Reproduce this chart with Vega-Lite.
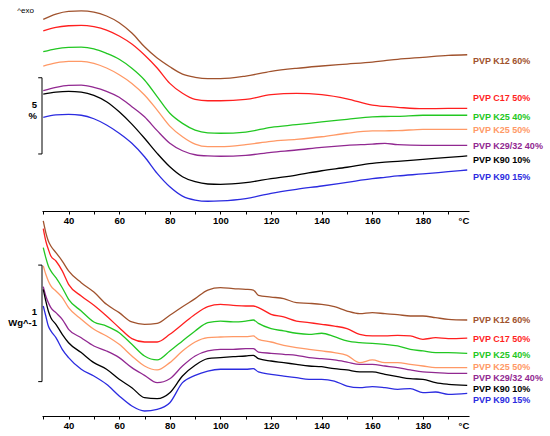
{
  "$schema": "https://vega.github.io/schema/vega-lite/v6.json",
  "padding": {"left": 8, "top": 0, "right": 0, "bottom": 0},
  "spacing": 9,
  "bounds": "flush",
  "datasets": {
    "top": [
      {"t": 30, "k12": 12.57, "c17": 11.82, "k25a": 10.45, "k25b": 9.51, "k29": 7.89, "k90a": 7.67, "k90b": 6.14},
      {"t": 35, "k12": 12.92, "c17": 12.05, "k25a": 10.64, "k25b": 9.72, "k29": 8.11, "k90a": 7.80, "k90b": 6.30},
      {"t": 40, "k12": 13.10, "c17": 12.15, "k25a": 10.73, "k25b": 9.82, "k29": 8.24, "k90a": 7.85, "k90b": 6.34},
      {"t": 45, "k12": 13.13, "c17": 12.18, "k25a": 10.75, "k25b": 9.82, "k29": 8.26, "k90a": 7.80, "k90b": 6.28},
      {"t": 50, "k12": 13.05, "c17": 12.09, "k25a": 10.64, "k25b": 9.69, "k29": 8.11, "k90a": 7.59, "k90b": 6.05},
      {"t": 55, "k12": 12.79, "c17": 11.87, "k25a": 10.34, "k25b": 9.38, "k29": 7.85, "k90a": 7.17, "k90b": 5.64},
      {"t": 60, "k12": 12.35, "c17": 11.48, "k25a": 9.95, "k25b": 8.94, "k29": 7.46, "k90a": 6.51, "k90b": 5.10},
      {"t": 65, "k12": 11.67, "c17": 10.95, "k25a": 9.36, "k25b": 8.37, "k29": 6.84, "k90a": 5.70, "k90b": 4.44},
      {"t": 70, "k12": 10.77, "c17": 10.23, "k25a": 8.59, "k25b": 7.61, "k29": 6.18, "k90a": 4.77, "k90b": 3.56},
      {"t": 75, "k12": 10.03, "c17": 9.38, "k25a": 7.50, "k25b": 6.62, "k29": 5.27, "k90a": 3.78, "k90b": 2.47},
      {"t": 80, "k12": 9.46, "c17": 8.37, "k25a": 6.41, "k25b": 5.57, "k29": 4.44, "k90a": 2.90, "k90b": 1.59},
      {"t": 85, "k12": 8.98, "c17": 7.72, "k25a": 5.75, "k25b": 4.87, "k29": 3.95, "k90a": 2.25, "k90b": 0.98},
      {"t": 90, "k12": 8.77, "c17": 7.32, "k25a": 5.31, "k25b": 4.39, "k29": 3.69, "k90a": 1.92, "k90b": 0.72},
      {"t": 95, "k12": 8.68, "c17": 7.23, "k25a": 5.13, "k25b": 4.22, "k29": 3.61, "k90a": 1.77, "k90b": 0.64},
      {"t": 100, "k12": 8.68, "c17": 7.23, "k25a": 5.10, "k25b": 4.22, "k29": 3.59, "k90a": 1.75, "k90b": 0.66},
      {"t": 110, "k12": 8.85, "c17": 7.32, "k25a": 5.18, "k25b": 4.35, "k29": 3.65, "k90a": 1.86, "k90b": 0.81},
      {"t": 120, "k12": 9.16, "c17": 7.63, "k25a": 5.49, "k25b": 4.57, "k29": 3.85, "k90a": 2.12, "k90b": 1.16},
      {"t": 130, "k12": 9.36, "c17": 7.72, "k25a": 5.66, "k25b": 4.70, "k29": 4.00, "k90a": 2.36, "k90b": 1.42},
      {"t": 140, "k12": 9.51, "c17": 7.63, "k25a": 5.84, "k25b": 4.87, "k29": 4.18, "k90a": 2.64, "k90b": 1.64},
      {"t": 150, "k12": 9.64, "c17": 7.36, "k25a": 6.01, "k25b": 5.10, "k29": 4.31, "k90a": 2.87, "k90b": 1.88},
      {"t": 160, "k12": 9.77, "c17": 6.95, "k25a": 6.18, "k25b": 5.25, "k29": 4.39, "k90a": 3.13, "k90b": 2.12},
      {"t": 165, "k12": 9.86, "c17": 6.86, "k25a": 6.20, "k25b": 5.26, "k29": 4.44, "k90a": 3.20, "k90b": 2.21},
      {"t": 170, "k12": 9.95, "c17": 6.80, "k25a": 6.21, "k25b": 5.27, "k29": 4.35, "k90a": 3.26, "k90b": 2.30},
      {"t": 180, "k12": 10.08, "c17": 6.71, "k25a": 6.28, "k25b": 5.36, "k29": 4.31, "k90a": 3.39, "k90b": 2.43},
      {"t": 190, "k12": 10.21, "c17": 6.73, "k25a": 6.28, "k25b": 5.36, "k29": 4.31, "k90a": 3.52, "k90b": 2.58},
      {"t": 197.5, "k12": 10.25, "c17": 6.73, "k25a": 6.28, "k25b": 5.36, "k29": 4.31, "k90a": 3.61, "k90b": 2.69}
    ],
    "bottom": [
      {"t": 30, "k12": 1.674, "c17": 1.608, "k25a": 1.445, "k25b": 1.288, "k29": 1.110, "k90a": 1.087, "k90b": 0.944},
      {"t": 31, "k12": 1.574, "c17": 1.502, "k25a": 1.359, "k25b": 1.216, "k29": 1.030, "k90a": 0.987, "k90b": 0.858},
      {"t": 32, "k12": 1.502, "c17": 1.431, "k25a": 1.288, "k25b": 1.159, "k29": 0.973, "k90a": 0.901, "k90b": 0.772},
      {"t": 33, "k12": 1.459, "c17": 1.373, "k25a": 1.245, "k25b": 1.116, "k29": 0.930, "k90a": 0.844, "k90b": 0.730},
      {"t": 35, "k12": 1.402, "c17": 1.330, "k25a": 1.187, "k25b": 1.073, "k29": 0.887, "k90a": 0.787, "k90b": 0.672},
      {"t": 37.5, "k12": 1.330, "c17": 1.245, "k25a": 1.101, "k25b": 1.016, "k29": 0.830, "k90a": 0.701, "k90b": 0.572},
      {"t": 40, "k12": 1.245, "c17": 1.130, "k25a": 1.001, "k25b": 0.930, "k29": 0.744, "k90a": 0.629, "k90b": 0.501},
      {"t": 45, "k12": 1.144, "c17": 1.030, "k25a": 0.901, "k25b": 0.830, "k29": 0.672, "k90a": 0.544, "k90b": 0.401},
      {"t": 50, "k12": 1.064, "c17": 0.950, "k25a": 0.807, "k25b": 0.744, "k29": 0.601, "k90a": 0.458, "k90b": 0.343},
      {"t": 55, "k12": 0.958, "c17": 0.858, "k25a": 0.772, "k25b": 0.687, "k29": 0.558, "k90a": 0.401, "k90b": 0.272},
      {"t": 60, "k12": 0.887, "c17": 0.758, "k25a": 0.715, "k25b": 0.615, "k29": 0.501, "k90a": 0.315, "k90b": 0.172},
      {"t": 65, "k12": 0.807, "c17": 0.664, "k25a": 0.615, "k25b": 0.515, "k29": 0.415, "k90a": 0.243, "k90b": 0.086},
      {"t": 70, "k12": 0.787, "c17": 0.635, "k25a": 0.515, "k25b": 0.429, "k29": 0.349, "k90a": 0.157, "k90b": 0.043},
      {"t": 75, "k12": 0.795, "c17": 0.635, "k25a": 0.481, "k25b": 0.395, "k29": 0.286, "k90a": 0.149, "k90b": 0.057},
      {"t": 80, "k12": 0.864, "c17": 0.701, "k25a": 0.558, "k25b": 0.458, "k29": 0.320, "k90a": 0.200, "k90b": 0.114},
      {"t": 85, "k12": 0.938, "c17": 0.787, "k25a": 0.644, "k25b": 0.558, "k29": 0.429, "k90a": 0.343, "k90b": 0.286},
      {"t": 90, "k12": 1.007, "c17": 0.873, "k25a": 0.730, "k25b": 0.635, "k29": 0.515, "k90a": 0.435, "k90b": 0.349},
      {"t": 95, "k12": 1.081, "c17": 0.938, "k25a": 0.801, "k25b": 0.672, "k29": 0.558, "k90a": 0.492, "k90b": 0.386},
      {"t": 100, "k12": 1.101, "c17": 0.958, "k25a": 0.815, "k25b": 0.678, "k29": 0.572, "k90a": 0.501, "k90b": 0.401},
      {"t": 105, "k12": 1.093, "c17": 0.950, "k25a": 0.807, "k25b": 0.681, "k29": 0.572, "k90a": 0.509, "k90b": 0.401},
      {"t": 110, "k12": 1.087, "c17": 0.944, "k25a": 0.815, "k25b": 0.681, "k29": 0.578, "k90a": 0.515, "k90b": 0.401},
      {"t": 113, "k12": 1.081, "c17": 0.944, "k25a": 0.824, "k25b": 0.687, "k29": 0.578, "k90a": 0.521, "k90b": 0.406},
      {"t": 115, "k12": 1.036, "c17": 0.930, "k25a": 0.795, "k25b": 0.658, "k29": 0.549, "k90a": 0.492, "k90b": 0.378},
      {"t": 120, "k12": 1.021, "c17": 0.873, "k25a": 0.750, "k25b": 0.635, "k29": 0.538, "k90a": 0.472, "k90b": 0.358},
      {"t": 125, "k12": 1.007, "c17": 0.850, "k25a": 0.730, "k25b": 0.607, "k29": 0.529, "k90a": 0.458, "k90b": 0.343},
      {"t": 130, "k12": 0.973, "c17": 0.815, "k25a": 0.710, "k25b": 0.587, "k29": 0.521, "k90a": 0.443, "k90b": 0.329},
      {"t": 135, "k12": 0.967, "c17": 0.801, "k25a": 0.701, "k25b": 0.572, "k29": 0.501, "k90a": 0.429, "k90b": 0.315},
      {"t": 140, "k12": 0.958, "c17": 0.787, "k25a": 0.710, "k25b": 0.558, "k29": 0.492, "k90a": 0.423, "k90b": 0.315},
      {"t": 145, "k12": 0.938, "c17": 0.772, "k25a": 0.681, "k25b": 0.544, "k29": 0.481, "k90a": 0.406, "k90b": 0.300},
      {"t": 150, "k12": 0.901, "c17": 0.750, "k25a": 0.644, "k25b": 0.521, "k29": 0.463, "k90a": 0.395, "k90b": 0.257},
      {"t": 155, "k12": 0.878, "c17": 0.701, "k25a": 0.629, "k25b": 0.458, "k29": 0.443, "k90a": 0.378, "k90b": 0.243},
      {"t": 160, "k12": 0.887, "c17": 0.687, "k25a": 0.624, "k25b": 0.481, "k29": 0.443, "k90a": 0.378, "k90b": 0.252},
      {"t": 165, "k12": 0.878, "c17": 0.687, "k25a": 0.615, "k25b": 0.458, "k29": 0.429, "k90a": 0.358, "k90b": 0.243},
      {"t": 170, "k12": 0.870, "c17": 0.692, "k25a": 0.601, "k25b": 0.458, "k29": 0.415, "k90a": 0.338, "k90b": 0.229},
      {"t": 175, "k12": 0.858, "c17": 0.687, "k25a": 0.572, "k25b": 0.443, "k29": 0.395, "k90a": 0.320, "k90b": 0.235},
      {"t": 180, "k12": 0.858, "c17": 0.658, "k25a": 0.558, "k25b": 0.429, "k29": 0.378, "k90a": 0.315, "k90b": 0.200},
      {"t": 185, "k12": 0.844, "c17": 0.672, "k25a": 0.544, "k25b": 0.415, "k29": 0.372, "k90a": 0.286, "k90b": 0.206},
      {"t": 190, "k12": 0.830, "c17": 0.664, "k25a": 0.544, "k25b": 0.415, "k29": 0.366, "k90a": 0.272, "k90b": 0.186},
      {"t": 197.5, "k12": 0.824, "c17": 0.669, "k25a": 0.538, "k25b": 0.415, "k29": 0.366, "k90a": 0.263, "k90b": 0.195}
    ],
    "topLabels": [
      {"s": "k12", "name": "PVP K12 60%", "v": 9.84},
      {"s": "c17", "name": "PVP C17 50%", "v": 7.39},
      {"s": "k25a", "name": "PVP K25 40%", "v": 6.18},
      {"s": "k25b", "name": "PVP K25 50%", "v": 5.31},
      {"s": "k29", "name": "PVP K29/32 40%", "v": 4.26},
      {"s": "k90a", "name": "PVP K90 10%", "v": 3.32},
      {"s": "k90b", "name": "PVP K90 15%", "v": 2.25}
    ],
    "bottomLabels": [
      {"s": "k12", "name": "PVP K12 60%", "v": 0.821},
      {"s": "c17", "name": "PVP C17 50%", "v": 0.664},
      {"s": "k25a", "name": "PVP K25 40%", "v": 0.526},
      {"s": "k25b", "name": "PVP K25 50%", "v": 0.423},
      {"s": "k29", "name": "PVP K29/32 40%", "v": 0.326},
      {"s": "k90a", "name": "PVP K90 10%", "v": 0.229},
      {"s": "k90b", "name": "PVP K90 15%", "v": 0.137}
    ],
    "topBar": [{"lo": 3.74, "hi": 8.74}],
    "topBarEnds": [{"v": 3.74}, {"v": 8.74}],
    "topBarText": [{"txt": "5", "v": 6.95}, {"txt": "%", "v": 6.2}],
    "topExo": [{"txt": "^exo", "v": 13.11}],
    "bottomBar": [{"lo": 0.295, "hi": 1.295}],
    "bottomBarEnds": [{"v": 0.295}, {"v": 1.295}],
    "bottomBarText": [{"txt": "1", "v": 0.893}, {"txt": "Wg^-1", "v": 0.798}]
  },
  "vconcat": [
    {
      "width": 427,
      "height": 211,
      "layer": [
        {
          "data": {"name": "top"},
          "transform": [{"fold": ["k12", "c17", "k25a", "k25b", "k29", "k90a", "k90b"], "as": ["s", "v"]}],
          "mark": {"type": "line", "strokeWidth": 1.3, "interpolate": "monotone"},
          "encoding": {
            "x": {"field": "t", "type": "quantitative"},
            "y": {"field": "v", "type": "quantitative"},
            "color": {
              "field": "s", "type": "nominal", "legend": null,
              "scale": {
                "domain": ["k12", "c17", "k25a", "k25b", "k29", "k90a", "k90b"],
                "range": ["#A0522D", "#FF1F1F", "#22C722", "#FF9966", "#912891", "#000000", "#2B2BE0"]
              }
            }
          }
        },
        {
          "data": {"name": "topLabels"},
          "mark": {"type": "text", "align": "left", "dx": 4, "fontWeight": "bold", "fontSize": 9, "font": "Liberation Sans"},
          "encoding": {
            "x": {"datum": 198.2, "type": "quantitative"},
            "y": {"field": "v", "type": "quantitative"},
            "text": {"field": "name"},
            "color": {"field": "s", "type": "nominal", "legend": null}
          }
        },
        {
          "data": {"name": "topBar"},
          "mark": {"type": "rule", "color": "black", "strokeWidth": 1},
          "encoding": {
            "x": {"datum": 29.5, "type": "quantitative"},
            "y": {"field": "lo", "type": "quantitative"},
            "y2": {"field": "hi"}
          }
        },
        {
          "data": {"name": "topBarEnds"},
          "mark": {"type": "rule", "color": "black", "strokeWidth": 1},
          "encoding": {
            "x": {"datum": 28, "type": "quantitative"},
            "x2": {"datum": 29.5},
            "y": {"field": "v", "type": "quantitative"}
          }
        },
        {
          "data": {"name": "topBarText"},
          "mark": {"type": "text", "align": "right", "dx": -5, "fontWeight": "bold", "fontSize": 9.5, "font": "Liberation Sans", "color": "black"},
          "encoding": {
            "x": {"datum": 29.5, "type": "quantitative"},
            "y": {"field": "v", "type": "quantitative"},
            "text": {"field": "txt"}
          }
        },
        {
          "data": {"name": "topExo"},
          "mark": {"type": "text", "align": "right", "dx": -8, "fontSize": 8, "font": "Liberation Sans", "color": "black"},
          "encoding": {
            "x": {"datum": 29.5, "type": "quantitative"},
            "y": {"field": "v", "type": "quantitative"},
            "text": {"field": "txt"}
          }
        }
      ],
      "encoding": {
        "x": {
          "type": "quantitative",
          "scale": {"domain": [29.5, 198.2], "nice": false, "zero": false},
          "axis": {
            "title": null,
            "values": [30, 40, 50, 60, 70, 80, 90, 100, 110, 120, 130, 140, 150, 160, 170, 180, 190, 196],
            "labelExpr": "datum.value == 196 ? '°C' : (datum.value % 20 == 0 ? datum.label : '')",
            "tickOpacity": {"condition": {"test": "datum.value == 196", "value": 0}, "value": 1}
          }
        },
        "y": {
          "type": "quantitative",
          "scale": {"domain": [0, 13.84], "nice": false, "zero": false},
          "axis": null
        }
      }
    },
    {
      "width": 427,
      "height": 196,
      "layer": [
        {
          "data": {"name": "bottom"},
          "transform": [{"fold": ["k12", "c17", "k25a", "k25b", "k29", "k90a", "k90b"], "as": ["s", "v"]}],
          "mark": {"type": "line", "strokeWidth": 1.3, "interpolate": "monotone"},
          "encoding": {
            "x": {"field": "t", "type": "quantitative"},
            "y": {"field": "v", "type": "quantitative"},
            "color": {"field": "s", "type": "nominal", "legend": null}
          }
        },
        {
          "data": {"name": "bottomLabels"},
          "mark": {"type": "text", "align": "left", "dx": 4, "fontWeight": "bold", "fontSize": 9, "font": "Liberation Sans"},
          "encoding": {
            "x": {"datum": 198.2, "type": "quantitative"},
            "y": {"field": "v", "type": "quantitative"},
            "text": {"field": "name"},
            "color": {"field": "s", "type": "nominal", "legend": null}
          }
        },
        {
          "data": {"name": "bottomBar"},
          "mark": {"type": "rule", "color": "black", "strokeWidth": 1},
          "encoding": {
            "x": {"datum": 29.5, "type": "quantitative"},
            "y": {"field": "lo", "type": "quantitative"},
            "y2": {"field": "hi"}
          }
        },
        {
          "data": {"name": "bottomBarEnds"},
          "mark": {"type": "rule", "color": "black", "strokeWidth": 1},
          "encoding": {
            "x": {"datum": 28, "type": "quantitative"},
            "x2": {"datum": 29.5},
            "y": {"field": "v", "type": "quantitative"}
          }
        },
        {
          "data": {"name": "bottomBarText"},
          "mark": {"type": "text", "align": "right", "dx": -5, "fontWeight": "bold", "fontSize": 9.5, "font": "Liberation Sans", "color": "black"},
          "encoding": {
            "x": {"datum": 29.5, "type": "quantitative"},
            "y": {"field": "v", "type": "quantitative"},
            "text": {"field": "txt"}
          }
        }
      ],
      "encoding": {
        "x": {
          "type": "quantitative",
          "scale": {"domain": [29.5, 198.2], "nice": false, "zero": false},
          "axis": {
            "title": null,
            "values": [30, 40, 50, 60, 70, 80, 90, 100, 110, 120, 130, 140, 150, 160, 170, 180, 190, 196],
            "labelExpr": "datum.value == 196 ? '°C' : (datum.value % 20 == 0 ? datum.label : '')",
            "tickOpacity": {"condition": {"test": "datum.value == 196", "value": 0}, "value": 1}
          }
        },
        "y": {
          "type": "quantitative",
          "scale": {"domain": [0, 1.682], "nice": false, "zero": false},
          "axis": null
        }
      }
    }
  ],
  "resolve": {"scale": {"color": "shared"}},
  "config": {
    "view": {"stroke": null},
    "axis": {
      "grid": false,
      "domainColor": "black",
      "tickColor": "black",
      "tickSize": 3,
      "labelPadding": 1,
      "labelColor": "black",
      "labelFont": "Liberation Sans",
      "labelFontWeight": "bold",
      "labelFontSize": 9.5,
      "labelFlush": false,
      "labelOverlap": false
    }
  }
}
